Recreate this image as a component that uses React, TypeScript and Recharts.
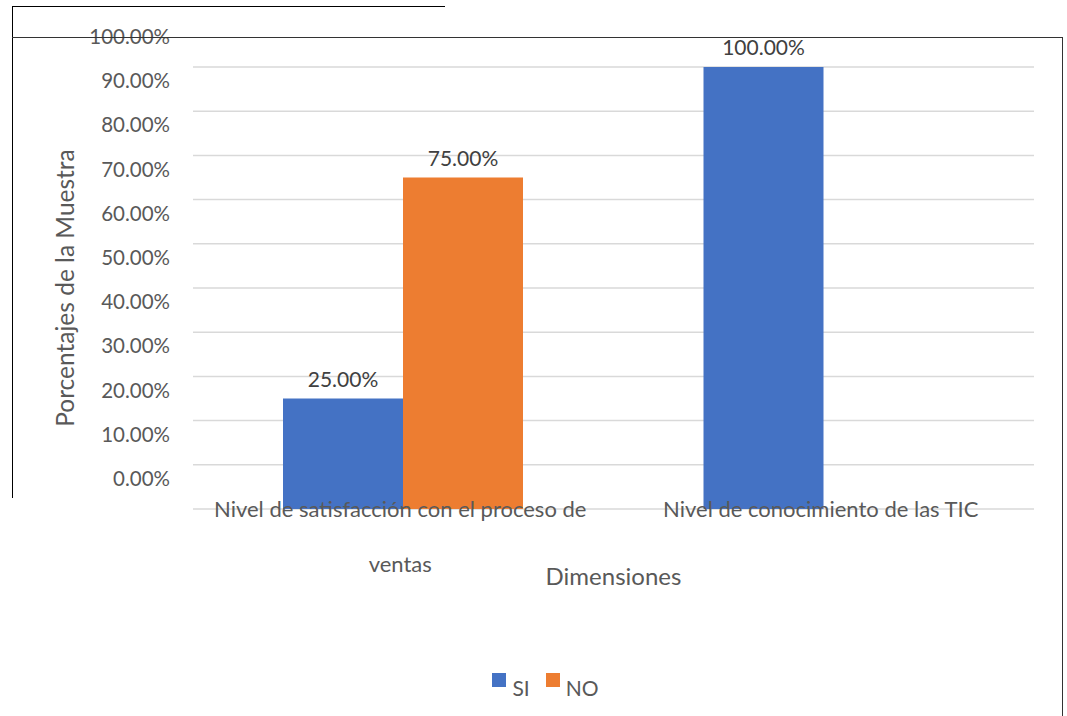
import React from "react";
import {
  BarChart,
  Bar,
  XAxis,
  YAxis,
  CartesianGrid,
  Legend,
  LabelList,
} from "recharts";

const FONT = "Lato, 'Open Sans', sans-serif";

const categorias = [
  "Nivel de satisfacción con el proceso de ventas",
  "Nivel de conocimiento de las TIC",
];
const si = [25, 100];
const no: (number | null)[] = [75, null];
const yTicks = [0, 10, 20, 30, 40, 50, 60, 70, 80, 90, 100];

const COLORS = {
  si: "#4472C4", // azul
  no: "#ED7D31", // naranja
};

const data = categorias.map((name, i) => ({ name, SI: si[i], NO: no[i] }));

const pct = (v: any) => (v == null ? "" : Number(v).toFixed(2) + "%");

// parte el texto en lineas de hasta 40 caracteres
function wrap(text: string, max = 40) {
  const words = text.split(" ");
  const lines: string[] = [];
  let cur = "";
  words.forEach((w) => {
    if ((cur + " " + w).trim().length > max) {
      lines.push(cur);
      cur = w;
    } else {
      cur = (cur + " " + w).trim();
    }
  });
  if (cur) lines.push(cur);
  return lines;
}

const YTick = ({ x, y, payload }: any) => (
  <text
    x={x - 15}
    y={y - 31}
    textAnchor="end"
    dominantBaseline="central"
    fill="#595959"
    fontSize={20.5}
    fontFamily={FONT}
  >
    {pct(payload.value)}
  </text>
);

const XTick = ({ x, y, payload }: any) => {
  const lines = wrap(payload.value);
  return (
    <g>
      {lines.map((l, i) => (
        <text
          key={i}
          x={x - 3}
          y={y - 9 + i * 55}
          textAnchor="middle"
          dominantBaseline="central"
          fill="#595959"
          fontSize={22}
          fontFamily={FONT}
        >
          {l}
        </text>
      ))}
    </g>
  );
};

const LegendContent = () => (
  <div
    style={{
      display: "flex",
      justifyContent: "center",
      fontFamily: FONT,
      fontSize: 21,
      color: "#595959",
      paddingLeft: 40,
    }}
  >
    {[
      { name: "SI", color: COLORS.si },
      { name: "NO", color: COLORS.no },
    ].map((it) => (
      <div key={it.name} style={{ display: "flex", alignItems: "flex-start", marginRight: 16 }}>
        <span
          style={{
            display: "inline-block",
            width: 14,
            height: 14,
            background: it.color,
            marginRight: 6,
            marginTop: 0,
          }}
        />
        <span style={{ marginTop: 2 }}>{it.name}</span>
      </div>
    ))}
  </div>
);

const line = (s: React.CSSProperties): React.CSSProperties => ({
  position: "absolute",
  background: "#000",
  ...s,
});

export default function App() {
  return (
    <div
      style={{
        position: "absolute",
        left: 0,
        top: 0,
        width: 1067,
        height: 716,
        background: "#fff",
        overflow: "hidden",
      }}
    >
      <BarChart
        width={1067}
        height={716}
        data={data}
        barGap={0}
        barSize={120}
        margin={{ top: 67, right: 33, bottom: 147, left: 43 }}
      >
        <CartesianGrid vertical={false} stroke="#D9D9D9" strokeWidth={1.5} />
        <XAxis
          dataKey="name"
          axisLine={false}
          tickLine={false}
          height={60}
          interval={0}
          tick={<XTick />}
          label={{
            value: "Dimensiones",
            position: "insideBottom",
            offset: -16,
            fill: "#595959",
            fontSize: 24,
            fontFamily: FONT,
          }}
        />
        <YAxis
          width={150}
          domain={[0, 100]}
          ticks={yTicks}
          axisLine={false}
          tickLine={false}
          tick={<YTick />}
          label={{
            value: "Porcentajes de la Muestra",
            angle: -90,
            position: "insideLeft",
            offset: 22,
            fill: "#595959",
            fontSize: 24.5,
            fontFamily: FONT,
            style: { textAnchor: "middle" },
          }}
        />
        <Legend
          layout="horizontal"
          verticalAlign="middle"
          align="center"
          content={<LegendContent />}
          wrapperStyle={{ position: "absolute", top: 673, left: 0, width: 1067 }}
        />
        <Bar dataKey="SI" fill={COLORS.si} isAnimationActive={false}>
          <LabelList
            dataKey="SI"
            position="top"
            offset={12}
            formatter={pct}
            fill="#404040"
            fontSize={21}
            fontFamily={FONT}
          />
        </Bar>
        <Bar dataKey="NO" fill={COLORS.no} isAnimationActive={false}>
          <LabelList
            dataKey="NO"
            position="top"
            offset={12}
            formatter={pct}
            fill="#404040"
            fontSize={21}
            fontFamily={FONT}
          />
        </Bar>
      </BarChart>
      {/* marcos sobrepuestos del documento */}
      <div style={line({ left: 12, top: 6, width: 433, height: 1 })} />
      <div style={line({ left: 12, top: 6, width: 1, height: 492 })} />
      <div style={line({ left: 12, top: 37, width: 1051, height: 1, background: "#333" })} />
      <div style={line({ left: 1062, top: 37, width: 1, height: 679, background: "#333" })} />
    </div>
  );
}
